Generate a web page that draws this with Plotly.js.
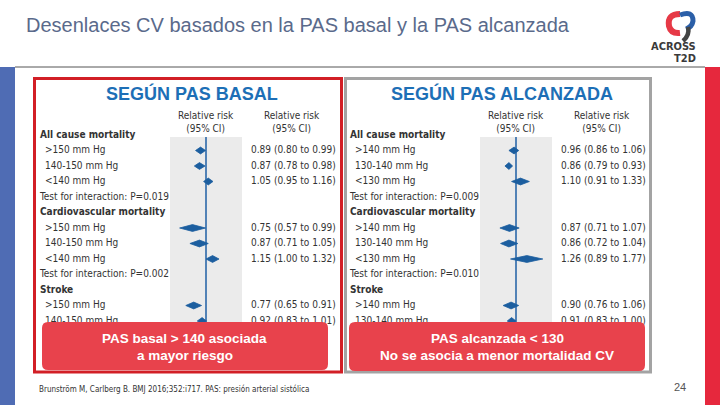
<!DOCTYPE html>
<html><head><meta charset="utf-8">
<script src="https://cdn.plot.ly/plotly-3.0.1.min.js"></script>
<style>html,body{margin:0;padding:0;background:#fff;}#chart{width:720px;height:405px;}</style>
</head><body><div id="chart"></div>
<script>
// ---------- data ----------
const rowKind = ['h','s','s','s','t','h','s','s','s','t','h','s','s'];
const basalLabels = ['All cause mortality','>150 mm Hg','140-150 mm Hg','<140 mm Hg','Test for interaction: P=0.019',
  'Cardiovascular mortality','>150 mm Hg','140-150 mm Hg','<140 mm Hg','Test for interaction: P=0.002',
  'Stroke','>150 mm Hg','140-150 mm Hg'];
const basalRR = [null,0.89,0.87,1.05,null,null,0.75,0.87,1.15,null,null,0.77,0.92];
const basalLo = [null,0.80,0.78,0.95,null,null,0.57,0.71,1.00,null,null,0.65,0.83];
const basalHi = [null,0.99,0.98,1.16,null,null,0.99,1.05,1.32,null,null,0.91,1.01];
const alcLabels = ['All cause mortality','>140 mm Hg','130-140 mm Hg','<130 mm Hg','Test for interaction: P=0.009',
  'Cardiovascular mortality','>140 mm Hg','130-140 mm Hg','<130 mm Hg','Test for interaction: P=0.010',
  'Stroke','>140 mm Hg','130-140 mm Hg'];
const alcRR = [null,0.96,0.86,1.10,null,null,0.87,0.86,1.26,null,null,0.90,0.91];
const alcLo = [null,0.86,0.79,0.91,null,null,0.71,0.72,0.89,null,null,0.76,0.83];
const alcHi = [null,1.06,0.93,1.33,null,null,1.07,1.04,1.77,null,null,1.06,1.00];
const panelTitles = ['SEGÚN PAS BASAL','SEGÚN PAS ALCANZADA'];
const calloutLines = [['PAS basal > 140 asociada','a mayor riesgo'],['PAS alcanzada < 130','No se asocia a menor mortalidad CV']];
const slideTitle = 'Desenlaces CV basados en la PAS basal y la PAS alcanzada';
const footerText = 'Brunström M, Carlberg B. BMJ 2016;352:i717. PAS: presión arterial sistólica';
const pageNum = '24';

// ---------- layout helpers ----------
const W=720,H=405;
const px=x=>x/W, py=y=>1-y/H;
const NARROW='"Liberation Sans Narrow","DejaVu Sans Condensed","Arial Narrow",sans-serif';
const SANS='"Liberation Sans",Arial,sans-serif';
const ROW0=135, STEP=15.5, AX_TOP=118, BAND_TOP=137, BAND_BOT=370;
const yRange=[(BAND_BOT-ROW0)/STEP,(AX_TOP-ROW0)/STEP];
const bandY0=(BAND_TOP-ROW0)/STEP;
const xr=[-0.333,0.333];
const DH=0.22;
const TXT='#333333';

function diamonds(rr,lo,hi,xa){
  const xs=[],ys=[];
  rr.forEach((v,k)=>{ if(v==null) return;
    xs.push(lo[k],v,hi[k],v,lo[k],null); ys.push(k,k-DH,k,k+DH,k,null);});
  return {type:'scatter',mode:'lines',x:xs,y:ys,xaxis:xa,yaxis:'y',fill:'toself',
    fillcolor:'#1c5e9f',line:{color:'#1c5e9f',width:0.8},hoverinfo:'skip',showlegend:false};
}
function textTrace(labels,rr,lo,hi,xLab,xSub,xVal){
  const mk=(xs,ys,ts,bold)=>({type:'scatter',mode:'text',x:xs,y:ys,text:ts,xaxis:'x3',yaxis:'y',
    textposition:'middle right',cliponaxis:false,hoverinfo:'skip',showlegend:false,
    textfont:{family:NARROW,size:10,color:TXT,weight:bold?'bold':'normal'}});
  const bx=[],by=[],bt=[],nx=[],ny=[],nt=[];
  labels.forEach((l,k)=>{
    if(rowKind[k]==='h'){bx.push(xLab);by.push(k);bt.push(l);}
    else {nx.push(rowKind[k]==='s'?xSub:xLab);ny.push(k);nt.push(l);}
    if(rr[k]!=null){nx.push(xVal);ny.push(k);nt.push(rr[k].toFixed(2)+' ('+lo[k].toFixed(2)+' to '+hi[k].toFixed(2)+')');}
  });
  return [mk(bx,by,bt,true),mk(nx,ny,nt,false)];
}
const data=[diamonds(basalRR,basalLo,basalHi,'x'),diamonds(alcRR,alcLo,alcHi,'x2'),
  ...textTrace(basalLabels,basalRR,basalLo,basalHi,40,45,251),
  ...textTrace(alcLabels,alcRR,alcLo,alcHi,350,355,561)];

function pathStr(segs){
  return segs.map(s=>{const c=s[0];const v=s.slice(1);const o=[];
    for(let i=0;i<v.length;i+=2)o.push(px(v[i])+','+py(v[i+1]));return c+' '+o.join(' ');}).join(' ');
}
function roundRect(x0,y0,x1,y1,r){
  return pathStr([['M',x0+r,y0],['L',x1-r,y0],['Q',x1,y0,x1,y0+r],['L',x1,y1-r],['Q',x1,y1,x1-r,y1],
    ['L',x0+r,y1],['Q',x0,y1,x0,y1-r],['L',x0,y0+r],['Q',x0,y0,x0+r,y0],['Z']]);
}
const shapes=[
  {type:'rect',xref:'paper',yref:'paper',x0:0,x1:px(15),y0:0,y1:py(67),fillcolor:'#4f6cb4',line:{width:0},layer:'below'},
  {type:'rect',xref:'paper',yref:'paper',x0:px(705),x1:1,y0:0,y1:py(67),fillcolor:'#e6283d',line:{width:0},layer:'below'},
  {type:'line',xref:'paper',yref:'paper',x0:px(15),x1:px(705),y0:py(67),y1:py(67),line:{color:'#555',width:1}},
  {type:'rect',xref:'x domain',yref:'y',x0:0,x1:1,y0:bandY0,y1:yRange[0],fillcolor:'#ebebeb',line:{width:0},layer:'below'},
  {type:'rect',xref:'x2 domain',yref:'y',x0:0,x1:1,y0:bandY0,y1:yRange[0],fillcolor:'#ebebeb',line:{width:0},layer:'below'},
  {type:'line',xref:'x',yref:'y',x0:1,x1:1,y0:bandY0,y1:yRange[0],line:{color:'#1f5fa5',width:1.5},layer:'below'},
  {type:'line',xref:'x2',yref:'y',x0:1,x1:1,y0:bandY0,y1:yRange[0],line:{color:'#1f5fa5',width:1.5},layer:'below'},
  {type:'rect',xref:'paper',yref:'paper',x0:px(345.5),x1:px(650.5),y0:py(372),y1:py(78.5),line:{color:'#a3a3a3',width:3},fillcolor:'rgba(0,0,0,0)',layer:'above'},
  {type:'rect',xref:'paper',yref:'paper',x0:px(34.5),x1:px(341.5),y0:py(372),y1:py(78.5),line:{color:'#d21f26',width:3},fillcolor:'rgba(0,0,0,0)',layer:'above'},
  {type:'path',xref:'paper',yref:'paper',path:roundRect(42,322,328,370,6),fillcolor:'#e8424c',line:{width:0},layer:'above'},
  {type:'path',xref:'paper',yref:'paper',path:roundRect(349,322,645,371,6),fillcolor:'#e8424c',line:{width:0},layer:'above'},
  // logo
  {type:'path',xref:'paper',yref:'paper',path:pathStr([['M',680,14],['Q',667,14,669,26],['Q',671,34,680,33]]),line:{color:'#e63946',width:6},layer:'above'},
  {type:'path',xref:'paper',yref:'paper',path:pathStr([['M',680,15],['Q',693,10,693,21],['Q',692,27,686,29]]),line:{color:'#2b5fa8',width:5},layer:'above'},
  {type:'path',xref:'paper',yref:'paper',path:pathStr([['M',688,27],['Q',690,35,683,41]]),line:{color:'#444',width:4.5},layer:'above'}
];
const ann=[];
const A=(o)=>ann.push(Object.assign({xref:'paper',yref:'paper',showarrow:false,xanchor:'center',yanchor:'middle'},o));
A({x:px(24),y:py(25),xanchor:'left',text:slideTitle,font:{family:SANS,size:20,color:'#5a6a8b'}});
A({x:px(192),y:py(93),text:panelTitles[0],font:{family:SANS,size:18,color:'#1d6fb6',weight:'bold'}});
A({x:px(502),y:py(93),text:panelTitles[1],font:{family:SANS,size:18,color:'#1d6fb6',weight:'bold'}});
[206,292,516,602].forEach(x=>A({x:px(x),y:py(122),text:'Relative risk<br>(95% CI)',font:{family:NARROW,size:10,color:TXT}}));
A({x:px(185),y:py(338),text:calloutLines[0][0],font:{family:SANS,size:13.5,color:'#fff',weight:'bold'}});
A({x:px(185),y:py(355),text:calloutLines[0][1],font:{family:SANS,size:13.5,color:'#fff',weight:'bold'}});
A({x:px(497),y:py(338),text:calloutLines[1][0],font:{family:SANS,size:13.5,color:'#fff',weight:'bold'}});
A({x:px(497),y:py(355),text:calloutLines[1][1],font:{family:SANS,size:13.5,color:'#fff',weight:'bold'}});
A({x:px(37),y:py(389),xanchor:'left',text:footerText,font:{family:NARROW,size:8,color:'#333'}});
A({x:px(680),y:py(387),text:pageNum,font:{family:SANS,size:11,color:'#555'}});
A({x:px(698),y:py(47),xanchor:'right',text:'ACROSS',font:{family:NARROW,size:11,color:'#3a3a3a',weight:'bold'}});
A({x:px(698),y:py(58),xanchor:'right',text:'T2D',font:{family:NARROW,size:11,color:'#3a3a3a',weight:'bold'}});

const hid={visible:false,fixedrange:true};
const layout={width:W,height:H,margin:{l:0,r:0,t:0,b:0},paper_bgcolor:'#fff',plot_bgcolor:'rgba(0,0,0,0)',
  showlegend:false,hovermode:false,
  xaxis:Object.assign({type:'log',range:xr,domain:[px(170),px(242)],anchor:'y'},hid),
  xaxis2:Object.assign({type:'log',range:xr,domain:[px(480),px(552)],anchor:'y'},hid),
  xaxis3:Object.assign({range:[0,W],domain:[0,1],anchor:'y'},hid),
  yaxis:Object.assign({range:yRange,domain:[py(BAND_BOT),py(AX_TOP)],anchor:'x'},hid),
  shapes:shapes,annotations:ann};
Plotly.newPlot('chart',data,layout,{staticPlot:true,displayModeBar:false});
</script></body></html>
